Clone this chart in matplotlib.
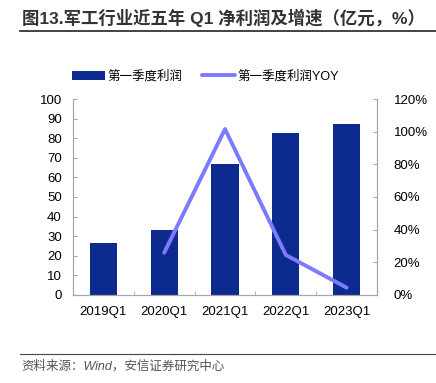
import matplotlib
matplotlib.use("Agg")
import matplotlib.pyplot as plt
import numpy as np

plt.rcParams['font.family'] = ['Liberation Sans', 'Noto Sans CJK SC', 'DejaVu Sans']

# data
quarters = ['2019Q1', '2020Q1', '2021Q1', '2022Q1', '2023Q1']
profit = [26.4, 33.2, 66.8, 82.8, 87.1]          # 亿元
yoy = [None, 25.9, 101.6, 24.5, 4.5]             # %

bar_color = '#0D2A8E'
line_color = '#7B7BFF'
spine_color = '#A6A6A6'

fig = plt.figure(figsize=(4.36, 3.83), dpi=100)
ax = fig.add_axes([0.1674, 0.2298, 0.6973, 0.5117])
ax2 = ax.twinx()

x = np.arange(len(quarters))
ax.bar(x, profit, width=0.45, color=bar_color, label='第一季度利润', zorder=2)
xl = [i for i, v in zip(x, yoy) if v is not None]
yl = [v for v in yoy if v is not None]
ax2.plot(xl, yl, color=line_color, lw=2.8, label='第一季度利润YOY', solid_capstyle='round')

ax.set_xlim(-0.5, len(quarters) - 0.5)
ax.set_ylim(0, 100)
ax.set_yticks(range(0, 101, 10))
ax2.set_ylim(0, 120)
ax2.set_yticks(range(0, 121, 20))
ax2.set_yticklabels([f'{v}%' for v in range(0, 121, 20)])
ax.set_xticks(x)
ax.set_xticklabels(quarters)
ax.set_xticks(np.arange(-0.5, len(quarters)), minor=True)

for a in (ax, ax2):
    a.spines['top'].set_visible(False)
    for s in ('left', 'right', 'bottom'):
        a.spines[s].set_color(spine_color)
        a.spines[s].set_linewidth(0.8)
ax.tick_params(axis='y', direction='in', length=3, color=spine_color, labelsize=9.5, pad=8)
ax2.tick_params(axis='y', direction='in', length=3, color=spine_color, labelsize=9.5, pad=12)
ax.tick_params(axis='x', which='major', length=0, labelsize=9.5, pad=8)
ax.tick_params(axis='x', which='minor', direction='in', length=3, color=spine_color)

h1, l1 = ax.get_legend_handles_labels()
h2, l2 = ax2.get_legend_handles_labels()
fig.legend(h1 + h2, l1 + l2, loc='center left', bbox_to_anchor=(0.14, 0.80),
           ncol=2, frameon=False, fontsize=9, handlelength=2.6, handleheight=0.8,
           handletextpad=0.2, columnspacing=1.6)

# title and source
fig.text(0.05, 0.953, '图13.军工行业近五年 Q1 净利润及增速（亿元，%）', fontsize=12.5,
         fontweight='bold', color='#333333', va='center', ha='left')
fig.add_artist(plt.Line2D([0.046, 1.0], [0.919, 0.919], color='#222222', lw=1.2))
fig.add_artist(plt.Line2D([0.046, 1.0], [0.076, 0.076], color='#444444', lw=0.8))
fig.text(0.05, 0.042, '资料来源：Wind，安信证券研究中心', fontsize=9, style='italic',
         color='#555555', va='center', ha='left')

fig.savefig('out.png', dpi=100)
